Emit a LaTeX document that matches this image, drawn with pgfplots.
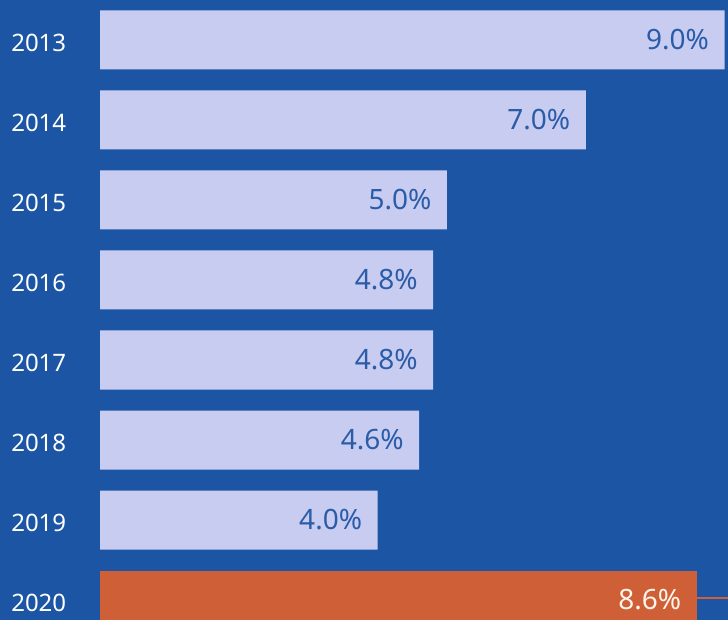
\documentclass[border=0pt]{standalone}
\usepackage{pgfplots}
\pgfplotsset{compat=1.18}
\usepackage{fontspec}
\setmainfont{Noto Sans}
\definecolor{bgblue}{HTML}{1B55A3}
\definecolor{barlav}{HTML}{C9CCF1}
\definecolor{barorange}{HTML}{CF5F36}
\definecolor{labblue}{HTML}{2A5CA8}
\begin{document}
\begin{tikzpicture}
\useasboundingbox (0,0) rectangle (728pt,620pt);
\fill[bgblue] (0,0) rectangle (728pt,620pt);
\clip (0,0) rectangle (728pt,620pt);
\begin{axis}[
    at={(100pt,0pt)}, anchor=south west,
    scale only axis, width=628pt, height=620pt,
    xmin=0, xmax=9.05,
    ymin=-0.5, ymax=7.25, y dir=reverse,
    xbar, bar width=59pt, bar shift=0pt,
    axis line style={draw=none}, tick style={draw=none},
    xtick=\empty,
    ytick={0,1,2,3,4,5,6,7},
    yticklabels={2013,2014,2015,2016,2017,2018,2019,2020},
    yticklabel style={font=\fontsize{24}{28}\selectfont, text=white, xshift=-26pt, yshift=-3pt},
    /pgf/number format/assume math mode=true,
    point meta=x,
    nodes near coords={\pgfmathprintnumber[fixed,fixed zerofill,precision=1]{\pgfplotspointmeta}\%},
    nodes near coords style={anchor=east, xshift=-12pt, font=\fontsize{28}{32}\selectfont},
    clip=false]
\addplot[fill=barlav, draw=none, nodes near coords style={text=labblue}] coordinates {
    (9.0,0) (7.0,1) (5.0,2) (4.8,3) (4.8,4) (4.6,5) (4.0,6)
};
\addplot[fill=barorange, draw=none, nodes near coords style={text=white!92!orange}] coordinates {
    (8.6,7)
};
\addplot[sharp plot, draw=barorange, line width=2pt, nodes near coords={}, forget plot] coordinates {
    (8.6,6.97) (9.1,6.97)
};
\end{axis}
\end{tikzpicture}
\end{document}
